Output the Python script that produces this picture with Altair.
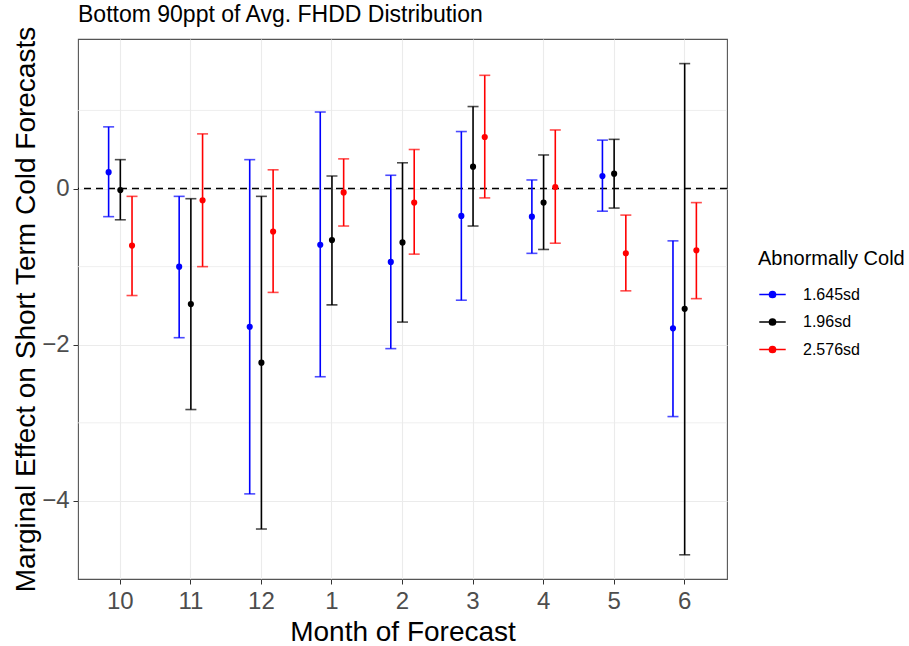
import altair as alt
import pandas as pd

months = ["10", "11", "12", "1", "2", "3", "4", "5", "6"]
groups = ["1.645sd", "1.96sd", "2.576sd"]
colors = ["#0000ff", "#000000", "#ff0000"]

est_1645 = [0.21, -1.00, -1.77, -0.72, -0.94, -0.35, -0.36, 0.16, -1.79]
lo_1645 = [-0.36, -1.91, -3.91, -2.41, -2.05, -1.43, -0.83, -0.29, -2.92]
hi_1645 = [0.79, -0.10, 0.37, 0.98, 0.17, 0.73, 0.11, 0.62, -0.67]

est_196 = [-0.02, -1.48, -2.23, -0.66, -0.69, 0.28, -0.18, 0.19, -1.54]
lo_196 = [-0.40, -2.83, -4.36, -1.49, -1.71, -0.48, -0.78, -0.25, -4.69]
hi_196 = [0.37, -0.13, -0.10, 0.16, 0.33, 1.05, 0.43, 0.63, 1.60]

est_2576 = [-0.73, -0.15, -0.55, -0.05, -0.18, 0.66, 0.02, -0.83, -0.79]
lo_2576 = [-1.37, -1.00, -1.33, -0.48, -0.84, -0.12, -0.70, -1.31, -1.41]
hi_2576 = [-0.10, 0.70, 0.24, 0.38, 0.50, 1.45, 0.75, -0.34, -0.18]

minor_grid = [-3, -1, 1]
y_ticks = [-4, -2, 0]
y_domain = [-5.0, 1.915]

rows = []
for g, est, lo, hi in [
    (groups[0], est_1645, lo_1645, hi_1645),
    (groups[1], est_196, lo_196, hi_196),
    (groups[2], est_2576, lo_2576, hi_2576),
]:
    for m, e, l, h in zip(months, est, lo, hi):
        rows.append({"month": m, "sd": g, "est": e, "lo": l, "hi": h})
df = pd.DataFrame(rows)

FONT = "Liberation Sans"
W, H = 649, 540
step = W / 9.2
dodge = 11.7

x_enc = alt.X(
    "month:N",
    sort=months,
    scale=alt.Scale(paddingInner=0, paddingOuter=0.1),
    axis=alt.Axis(
        title="Month of Forecast",
        labelAngle=0,
        bandPosition=0.5,
        grid=True,
        gridColor="#ebebeb",
        gridWidth=1.1,
        domain=False,
        tickSize=5,
        tickColor="#333333",
        labelFontSize=24,
        labelColor="#4d4d4d",
        labelPadding=5,
        labelFont=FONT,
        titleFont=FONT,
        titleFontSize=28,
        titleFontWeight="normal",
        titleColor="black",
        titleX=W / 2,
        titleY=61,
        titleBaseline="alphabetic",
    ),
)
xo_enc = alt.XOffset(
    "sd:N",
    sort=groups,
    scale=alt.Scale(
        domain=groups,
        paddingInner=0,
        paddingOuter=0,
        range=[step / 2 - 1.5 * dodge, step / 2 + 1.5 * dodge],
    ),
)
y_scale = alt.Scale(domain=y_domain, nice=False, zero=False)
y_axis = alt.Axis(
    title="Marginal Effect on Short Term Cold Forecasts",
    values=y_ticks,
    format="d",
    grid=True,
    gridColor="#ebebeb",
    gridWidth=1.1,
    domain=False,
    tickSize=5,
    tickColor="#333333",
    labelFontSize=24,
    labelColor="#4d4d4d",
    labelPadding=4,
    labelFont=FONT,
    titleFont=FONT,
    titleFontSize=28,
    titleFontWeight="normal",
    titleColor="black",
    titleAngle=270,
    titleX=-44,
    titleY=H / 2,
    titleAlign="center",
    titleBaseline="alphabetic",
)

base = alt.Chart(df)

minor = alt.Chart(pd.DataFrame({"v": minor_grid})).mark_rule(
    color="#ebebeb", strokeWidth=0.8
).encode(y=alt.Y("v:Q", scale=y_scale, axis=y_axis))

zero = alt.Chart(pd.DataFrame({"v": [0]})).mark_rule(
    color="black", strokeWidth=1.4, strokeDash=[7, 5]
).encode(y=alt.Y("v:Q", scale=y_scale))

col_scale = alt.Scale(domain=groups, range=colors)

leg = alt.Legend(
    title="Abnormally Cold",
    orient="none",
    legendX=680,
    legendY=210,
    titleFont=FONT,
    titleFontSize=20,
    titleFontWeight="normal",
    titleColor="black",
    titlePadding=11,
    labelFont=FONT,
    labelFontSize=16,
    labelColor="black",
    labelOffset=16,
    symbolType="M-1,0L1,0M0.23,0A0.23,0.23,0,1,1,-0.23,0A0.23,0.23,0,1,1,0.23,0Z",
    symbolSize=700,
    symbolStrokeWidth=1.6,
    symbolOpacity=1,
    rowPadding=4.5,
)
col = alt.Color("sd:N", scale=col_scale, sort=groups, legend=leg)

bars = base.mark_rule(strokeWidth=1.6).encode(
    x=x_enc,
    xOffset=xo_enc,
    y=alt.Y("lo:Q", scale=y_scale),
    y2="hi:Q",
    color=col,
)
caps_lo = base.mark_tick(size=11, thickness=1.6).encode(
    x=x_enc,
    xOffset=xo_enc,
    y=alt.Y("lo:Q", scale=y_scale),
    color=col,
)
caps_hi = base.mark_tick(size=11, thickness=1.6).encode(
    x=x_enc,
    xOffset=xo_enc,
    y=alt.Y("hi:Q", scale=y_scale),
    color=col,
)
points = base.mark_circle(size=38, opacity=1).encode(
    x=x_enc,
    xOffset=xo_enc,
    y=alt.Y("est:Q", scale=y_scale),
    color=col,
)

chart = (
    alt.layer(minor, zero, bars, caps_lo, caps_hi, points)
    .properties(
        width=W,
        height=H,
        title=alt.TitleParams(
            text="Bottom 90ppt of Avg. FHDD Distribution",
            anchor="start",
            frame="group",
            font=FONT,
            fontSize=23,
            fontWeight="normal",
            color="black",
            baseline="alphabetic",
            offset=17,
            dy=36,
        ),
        autosize=alt.AutoSizeParams(type="none"),
        padding={"left": 78, "top": 39, "right": 182, "bottom": 67},
        background="white",
    )
    .configure_view(stroke="#555555", strokeWidth=1.1)
)

chart.save("out.html", embed_options={"renderer": "svg", "actions": False})
